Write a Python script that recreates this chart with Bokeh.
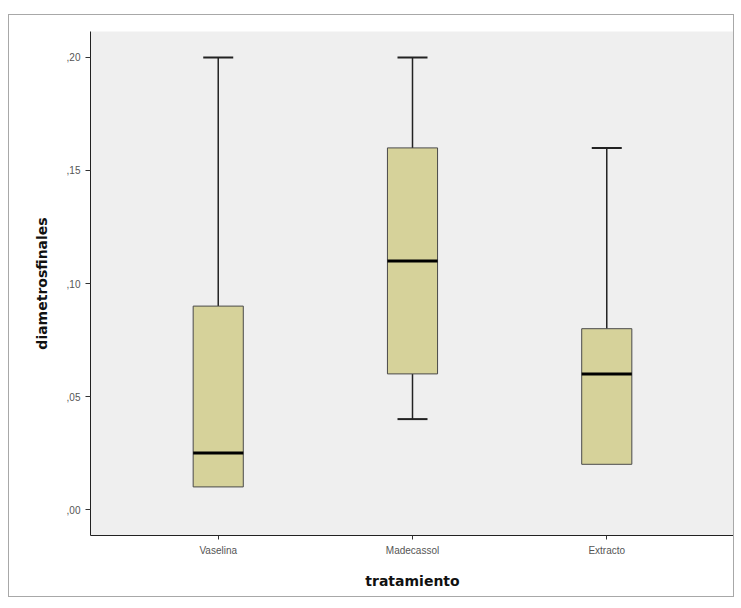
from bokeh.plotting import figure
from bokeh.layouts import column
from bokeh.models import (FactorRange, Range1d, ColumnDataSource, Whisker, TeeHead,
                          FixedTicker, CustomJSTickFormatter, LinearAxis)
from bokeh.embed import file_html
from bokeh.resources import INLINE

# ---- data ----
categories = ["Vaselina", "Madecassol", "Extracto"]
whisker_low = [0.01, 0.04, 0.02]
q1 = [0.01, 0.06, 0.02]
median = [0.025, 0.11, 0.06]
q3 = [0.09, 0.16, 0.08]
whisker_high = [0.20, 0.20, 0.16]
y_ticks = [0.0, 0.05, 0.10, 0.15, 0.20]

x_label = "tratamiento"
y_label = "diametrosfinales"

box_color = "#d6d29a"
edge_color = "#4a4a4a"

p = figure(
    width=726, height=583,
    x_range=FactorRange(factors=categories, range_padding=0.105, range_padding_units="percent"),
    y_range=Range1d(-0.0115, 0.2115),
    output_backend="svg", toolbar_location=None,
    background_fill_color="#efefef", border_fill_color="white",
    min_border_left=81, min_border_right=1, min_border_top=16, min_border_bottom=63,
)
p.margin = (14, 0, 0, 8)
p.styles = {"border": "1px solid #a8a8a8"}
p.outline_line_color = None
p.xgrid.visible = False
p.ygrid.visible = False

src = ColumnDataSource(dict(cat=categories, q1=q1, q3=q3, med=median,
                            lo=whisker_low, hi=whisker_high))

# upper whiskers
up = Whisker(base="cat", lower="q3", upper="hi", source=src, dimension="height",
             line_color="#222222", line_width=1.5,
             upper_head=TeeHead(size=30, line_color="#222222", line_width=2),
             lower_head=None)
p.add_layout(up)

# lower whiskers only where they exist
lo_idx = [i for i in range(len(categories)) if whisker_low[i] < q1[i]]
src_lo = ColumnDataSource(dict(cat=[categories[i] for i in lo_idx],
                               lo=[whisker_low[i] for i in lo_idx],
                               q1=[q1[i] for i in lo_idx]))
dn = Whisker(base="cat", lower="lo", upper="q1", source=src_lo, dimension="height",
             line_color="#222222", line_width=1.5,
             lower_head=TeeHead(size=30, line_color="#222222", line_width=2),
             upper_head=None)
p.add_layout(dn)

p.vbar(x="cat", bottom="q1", top="q3", width=0.258, source=src,
       fill_color=box_color, line_color=edge_color, line_width=1)
p.rect(x="cat", y="med", width=0.258, height=3, height_units="screen", source=src,
       fill_color="black", line_color=None)

# axes
p.yaxis.ticker = FixedTicker(ticks=y_ticks)
p.yaxis.formatter = CustomJSTickFormatter(code="return ',' + tick.toFixed(2).split('.')[1];")
for ax in (p.xaxis, p.yaxis):
    ax.axis_line_color = "#222222"
    ax.major_tick_line_color = "#333333"
    ax.minor_tick_line_color = None
    ax.major_tick_out = 5
    ax.major_tick_in = 0
    ax.major_label_text_font = "Liberation Sans"
    ax.major_label_text_font_size = "10px"
    ax.major_label_text_color = "#555555"
    ax.axis_label_text_font_style = "bold"
    ax.axis_label_text_font = "DejaVu Sans"
    ax.axis_label_text_color = "#111111"

p.xaxis.axis_label = x_label
p.xaxis.axis_label_text_font_size = "14px"
p.xaxis.major_tick_out = 4
p.xaxis.axis_label_standoff = 14
p.yaxis.axis_label = y_label
p.yaxis.axis_label_text_font_size = "14px"
p.yaxis.axis_label_standoff = 14

right = LinearAxis(major_tick_line_color=None, minor_tick_line_color=None,
                   major_label_text_font_size="0px", axis_line_color="#555555")
right.ticker = FixedTicker(ticks=[])
p.add_layout(right, "right")

layout = column(p)
open("out.html", "w").write(file_html(layout, INLINE))
